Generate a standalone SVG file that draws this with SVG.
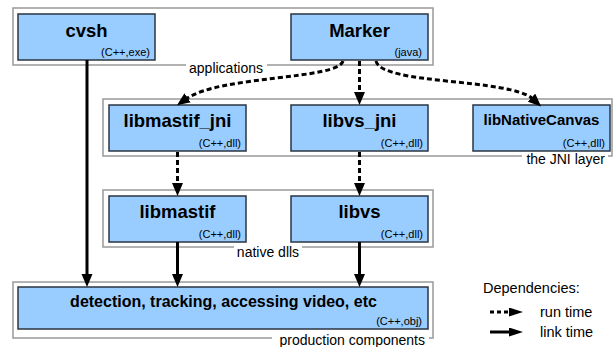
<svg xmlns="http://www.w3.org/2000/svg" width="614" height="347" viewBox="0 0 614 347">
<style>
.grp{fill:#fff;stroke:#999;stroke-width:1.5}
.box{fill:#99ccff;stroke:#2b3440;stroke-width:1.5}
.title{font-family:"Liberation Sans",Arial,sans-serif;font-weight:bold;font-size:18.5px;fill:#000;text-anchor:middle}
.sub{font-family:"Liberation Sans",Arial,sans-serif;font-size:11px;fill:#000;text-anchor:end}
.glabel{font-family:"Liberation Sans",Arial,sans-serif;font-size:14px;fill:#000}
.gap{fill:#fff}
.run{fill:none;stroke:#000;stroke-width:3;stroke-dasharray:5,3}
.link{fill:none;stroke:#000;stroke-width:3}
.legend{font-family:"Liberation Sans",Arial,sans-serif;font-size:14.5px;fill:#000}
</style>
<defs>
<marker id="ah" markerUnits="userSpaceOnUse" markerWidth="14" markerHeight="12" refX="2" refY="5.5" orient="auto">
<path d="M0,0 L13,5.5 L0,11 z" fill="#000"/>
</marker>
<marker id="ahl" markerUnits="userSpaceOnUse" markerWidth="16" markerHeight="10" refX="2" refY="4.5" orient="auto">
<path d="M0,0 L14,4.5 L0,9 z" fill="#000"/>
</marker>
</defs>

<g id="group-applications">
<rect class="grp" x="13" y="8" width="420" height="57"/>
<rect class="gap" x="186" y="62" width="81" height="6"/>
<text class="glabel" x="226" y="73" text-anchor="middle">applications</text>
</g>
<g id="group-jni">
<rect class="grp" x="103" y="99" width="509" height="57"/>
<rect class="gap" x="522" y="153" width="86" height="6"/>
<text class="glabel" x="605" y="164" text-anchor="end">the JNI layer</text>
</g>
<g id="group-native">
<rect class="grp" x="103" y="190" width="330" height="57"/>
<rect class="gap" x="234" y="244" width="68" height="6"/>
<text class="glabel" x="268" y="257" text-anchor="middle">native dlls</text>
</g>
<g id="group-production">
<rect class="grp" x="13" y="282" width="420" height="56"/>
<rect class="gap" x="272" y="335" width="157" height="6"/>
<text class="glabel" x="425" y="345" text-anchor="end">production components</text>
</g>

<g id="cvsh">
<rect class="box" x="18" y="14" width="137" height="46"/>
<text class="title" x="86.5" y="37">cvsh</text>
<text class="sub" x="150" y="55.5">(C++,exe)</text>
</g>
<g id="marker">
<rect class="box" x="291" y="14" width="137" height="46"/>
<text class="title" x="359.5" y="37">Marker</text>
<text class="sub" x="422" y="55.5">(java)</text>
</g>
<g id="libmastif_jni">
<rect class="box" x="109" y="105" width="137" height="46"/>
<text class="title" x="177.5" y="127">libmastif_jni</text>
<text class="sub" x="241" y="146.5">(C++,dll)</text>
</g>
<g id="libvs_jni">
<rect class="box" x="291" y="105" width="137" height="46"/>
<text class="title" x="359.5" y="127">libvs_jni</text>
<text class="sub" x="423" y="146.5">(C++,dll)</text>
</g>
<g id="libNativeCanvas">
<rect class="box" x="473" y="105" width="137" height="46"/>
<text class="title" x="541.5" y="125" style="font-size:15px">libNativeCanvas</text>
<text class="sub" x="605" y="146.5">(C++,dll)</text>
</g>
<g id="libmastif">
<rect class="box" x="109" y="196" width="137" height="46"/>
<text class="title" x="177.5" y="218">libmastif</text>
<text class="sub" x="241" y="237.5">(C++,dll)</text>
</g>
<g id="libvs">
<rect class="box" x="291" y="196" width="137" height="46"/>
<text class="title" x="359.5" y="218">libvs</text>
<text class="sub" x="423" y="237.5">(C++,dll)</text>
</g>
<g id="production">
<rect class="box" x="18" y="287" width="410" height="42"/>
<text class="title" x="223.5" y="307" style="font-size:16px">detection, tracking, accessing video, etc</text>
<text class="sub" x="422" y="325">(C++,obj)</text>
</g>

<g id="connectors">
<path class="run" d="M343,61 C338,80 220,75 186,99" marker-end="url(#ah)"/>
<path class="run" d="M359.5,61 L359.5,94" marker-end="url(#ah)"/>
<path class="run" d="M376,61 C381,85 510,78 533,99" marker-end="url(#ah)"/>
<path class="run" d="M177.5,152 L177.5,185" marker-end="url(#ah)"/>
<path class="run" d="M359.5,152 L359.5,185" marker-end="url(#ah)"/>
<path class="link" d="M87,60 L87,276" marker-end="url(#ah)"/>
<path class="link" d="M177.5,242 L177.5,276" marker-end="url(#ah)"/>
<path class="link" d="M359.5,242 L359.5,276" marker-end="url(#ah)"/>
</g>

<g id="legend">
<text class="legend" x="483" y="293">Dependencies:</text>
<path class="run" d="M490,312 L511,312" style="stroke-dasharray:4,3" marker-end="url(#ahl)"/>
<text class="legend" x="540" y="317">run time</text>
<path class="link" d="M490,332 L511,332" marker-end="url(#ahl)"/>
<text class="legend" x="540" y="337">link time</text>
</g>
</svg>
